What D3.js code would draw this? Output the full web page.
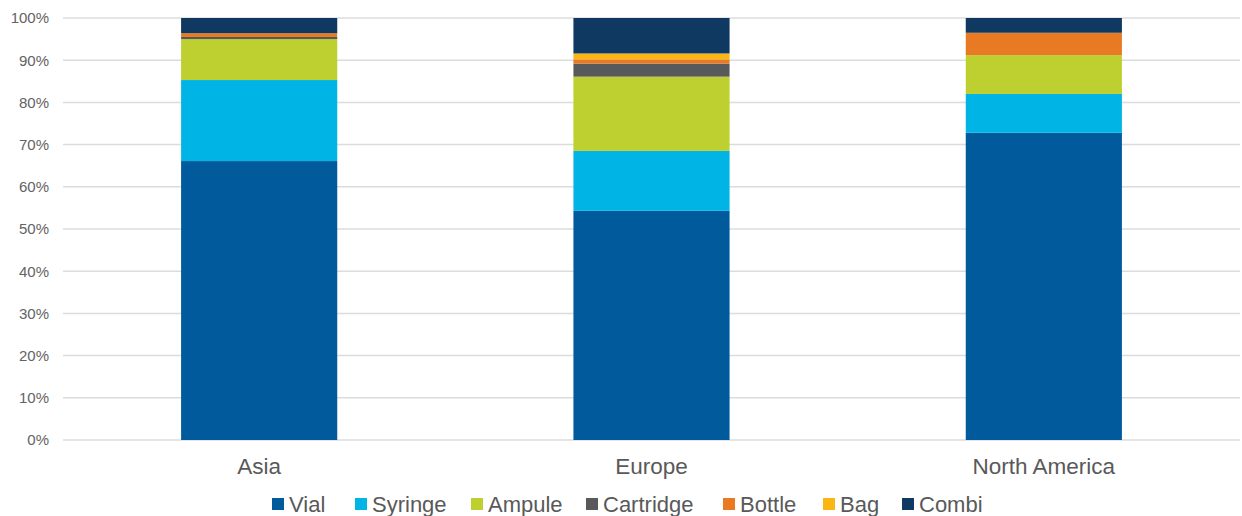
<!DOCTYPE html>
<html><head><meta charset="utf-8">
<script src="https://cdn.jsdelivr.net/npm/d3@7"></script>
<style>body{margin:0;background:#fff;}svg{display:block;font-family:"Liberation Sans",Arial,sans-serif;}</style>
</head><body>
<svg id="c" width="1242" height="516"></svg>
<script>
const categories = ["Asia", "Europe", "North America"];
const seriesNames = ["Vial", "Syringe", "Ampule", "Cartridge", "Bottle", "Bag", "Combi"];
const vial      = [66.1, 54.3, 72.8];
const syringe   = [19.2, 14.2, 9.2];
const ampule    = [9.7, 17.6, 9.2];
const cartridge = [0.5, 3.1, 0.0];
const bottle    = [0.9, 1.0, 5.3];
const bag       = [0.0, 1.4, 0.0];
const combi     = [3.6, 8.4, 3.5];
const colors = ["#005a9c", "#00b5e6", "#bdd030", "#58595b", "#e87a24", "#fcb614", "#0f3960"];
const yTicks = [0,10,20,30,40,50,60,70,80,90,100];

const seriesValues = [vial, syringe, ampule, cartridge, bottle, bag, combi];
const rows = categories.map((c,i)=>{const r={cat:c}; seriesNames.forEach((s,j)=>r[s]=seriesValues[j][i]); return r;});
const stack = d3.stack().keys(seriesNames).offset(d3.stackOffsetExpand)(rows);

const svg = d3.select("#c");
const x = d3.scaleBand().domain(categories).range([63,1240]).paddingInner(0.602).paddingOuter(0.301);
const y = d3.scaleLinear().domain([0,1]).range([440,18]);

// gridlines
svg.append("g").selectAll("line").data(yTicks).join("line")
  .attr("x1",63).attr("x2",1240)
  .attr("y1",d=>y(d/100)).attr("y2",d=>y(d/100))
  .attr("stroke","#dcdcdc").attr("stroke-width",1.5);

// y axis labels
const yAxis = d3.axisLeft(y).tickValues(yTicks.map(d=>d/100)).tickFormat(d=>Math.round(d*100)+"%").tickSize(0).tickPadding(0);
const ya = svg.append("g").attr("transform","translate(49,0)").call(yAxis);
ya.select(".domain").remove();
ya.selectAll("text").attr("fill","#636363").style("font-size","15px").style("font-family","'Liberation Sans',Arial,sans-serif");

// bars
svg.append("g").selectAll("g").data(stack).join("g")
  .attr("fill",(d,i)=>colors[i])
  .selectAll("rect").data(d=>d).join("rect")
  .attr("x",d=>x(d.data.cat)).attr("width",x.bandwidth())
  .attr("y",d=>y(d[1])).attr("height",d=>Math.max(0,y(d[0])-y(d[1])));

// x axis labels
const xAxis = d3.axisBottom(x).tickSize(0).tickPadding(0);
const xa = svg.append("g").attr("transform","translate(0,458)").call(xAxis);
xa.select(".domain").remove();
xa.selectAll("text").attr("fill","#595959").style("font-size","22.5px").style("font-family","'Liberation Sans',Arial,sans-serif").attr("dy","0.71em");

// legend
const legX = [272, 355, 471, 586, 723, 823, 902];
const lg = svg.append("g").selectAll("g").data(seriesNames).join("g")
  .attr("transform",(d,i)=>`translate(${legX[i]},0)`);
lg.append("rect").attr("x",0).attr("y",498).attr("width",12).attr("height",12).attr("fill",(d,i)=>colors[i]);
lg.append("text").attr("x",17).attr("y",512).text(d=>d)
  .attr("fill","#595959").style("font-size","22px");
</script>
</body></html>
